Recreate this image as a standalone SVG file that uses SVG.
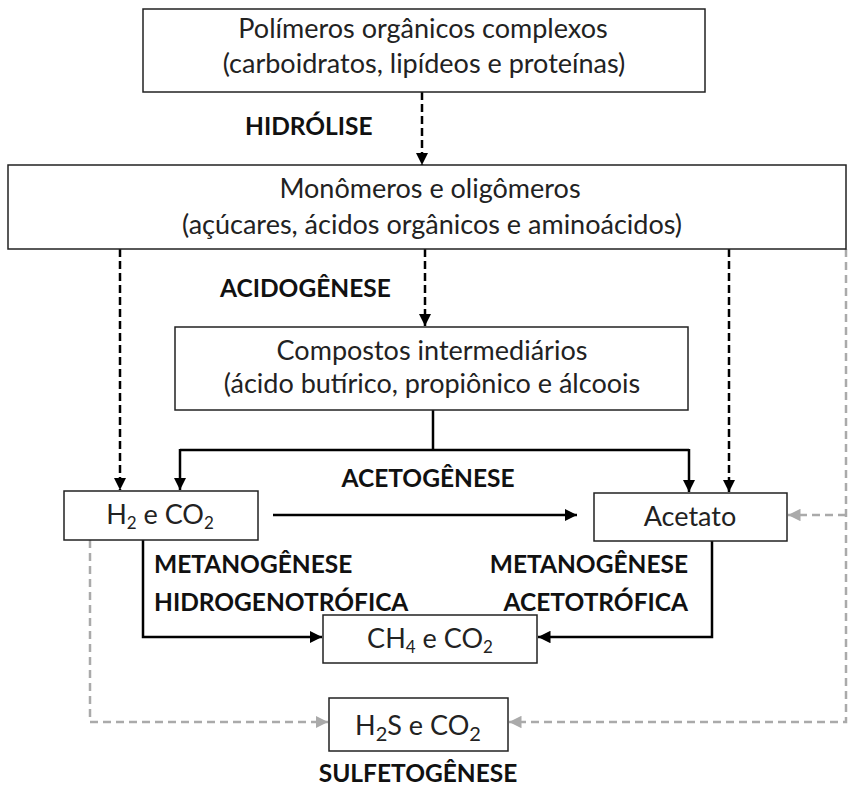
<svg xmlns="http://www.w3.org/2000/svg" width="849" height="787" viewBox="0 0 849 787">
<style>
.box{fill:#fff;stroke:#222;stroke-width:1.5}
.t{font-family:Lato,"Open Sans",sans-serif;font-size:27px;fill:#222;text-anchor:middle}
.b{font-family:Lato,"Open Sans",sans-serif;font-size:24.5px;font-weight:bold;fill:#111}
.s{stroke:#000;stroke-width:2.5;fill:none}
.d{stroke:#000;stroke-width:2.5;fill:none;stroke-dasharray:8 4}
.g{stroke:#aaa;stroke-width:2.5;fill:none;stroke-dasharray:8 5}
</style>
<defs>
<marker id="ab" viewBox="0 0 10 10" refX="10" refY="5" markerWidth="5" markerHeight="5" orient="auto" markerUnits="strokeWidth"><path d="M0,0 L10,5 L0,10 z" fill="#000"/></marker>
<marker id="ag" viewBox="0 0 10 10" refX="10" refY="5" markerWidth="5" markerHeight="5" orient="auto" markerUnits="strokeWidth"><path d="M0,0 L10,5 L0,10 z" fill="#aaa"/></marker>
</defs>
<rect width="849" height="787" fill="#fff"/>
<g id="connectors">
<path class="d" d="M422,92 V165" marker-end="url(#ab)"/>
<path class="d" d="M120,249 V490" marker-end="url(#ab)"/>
<path class="d" d="M425,249 V326" marker-end="url(#ab)"/>
<path class="d" d="M729,249 V492" marker-end="url(#ab)"/>
<path class="s" d="M433,410 V450"/>
<path class="s" d="M180,450 H689"/>
<path class="s" d="M180,449 V490" marker-end="url(#ab)"/>
<path class="s" d="M689,449 V492" marker-end="url(#ab)"/>
<path class="s" d="M273,515 H577" marker-end="url(#ab)"/>
<path class="s" d="M143,540 V637 H322" marker-end="url(#ab)"/>
<path class="s" d="M712,541 V637 H538" marker-end="url(#ab)"/>
<path class="g" d="M846,249 V722 H509" marker-end="url(#ag)"/>
<path class="g" d="M846,515 H788" marker-end="url(#ag)"/>
<path class="g" d="M90,540 V722 H328" marker-end="url(#ag)"/>
</g>
<g id="polimeros">
<rect class="box" x="143" y="9" width="562" height="83"/>
<text class="t" x="423" y="38">Polímeros orgânicos complexos</text>
<text class="t" x="424" y="73">(carboidratos, lipídeos e proteínas)</text>
</g>
<g id="monomeros">
<rect class="box" x="8" y="165" width="838" height="84"/>
<text class="t" x="430" y="198">Monômeros e oligômeros</text>
<text class="t" x="432" y="234">(açúcares, ácidos orgânicos e aminoácidos)</text>
</g>
<g id="compostos">
<rect class="box" x="175" y="327" width="513" height="83"/>
<text class="t" x="432" y="360">Compostos intermediários</text>
<text class="t" x="432" y="393">(ácido butírico, propiônico e álcoois</text>
</g>
<g id="h2co2">
<rect class="box" x="64" y="491" width="194" height="49"/>
<text class="t" x="160" y="524" font-size="25">H<tspan font-size="17" dy="5">2</tspan><tspan dy="-5"> e CO</tspan><tspan font-size="17" dy="5">2</tspan></text>
</g>
<g id="acetato">
<rect class="box" x="594" y="493" width="193" height="48"/>
<text class="t" x="690" y="526" font-size="26">Acetato</text>
</g>
<g id="ch4co2">
<rect class="box" x="323" y="615" width="214" height="48"/>
<text class="t" x="430" y="648" font-size="25.5">CH<tspan font-size="17" dy="5">4</tspan><tspan dy="-5"> e CO</tspan><tspan font-size="17" dy="5">2</tspan></text>
</g>
<g id="h2sco2">
<rect class="box" x="329" y="698" width="179" height="53"/>
<text class="t" x="418" y="735" font-size="30">H<tspan font-size="20" dy="6">2</tspan><tspan dy="-6">S e CO</tspan><tspan font-size="20" dy="6">2</tspan></text>
</g>
<g id="labels">
<text class="b" x="245" y="135">HIDRÓLISE</text>
<text class="b" x="220" y="297">ACIDOGÊNESE</text>
<text class="b" x="428" y="487" text-anchor="middle">ACETOGÊNESE</text>
<text class="b" x="154" y="573">METANOGÊNESE</text>
<text class="b" x="154" y="611">HIDROGENOTRÓFICA</text>
<text class="b" x="688" y="573" text-anchor="end">METANOGÊNESE</text>
<text class="b" x="688" y="611" text-anchor="end">ACETOTRÓFICA</text>
<text class="b" x="418" y="782" text-anchor="middle">SULFETOGÊNESE</text>
</g>
</svg>
